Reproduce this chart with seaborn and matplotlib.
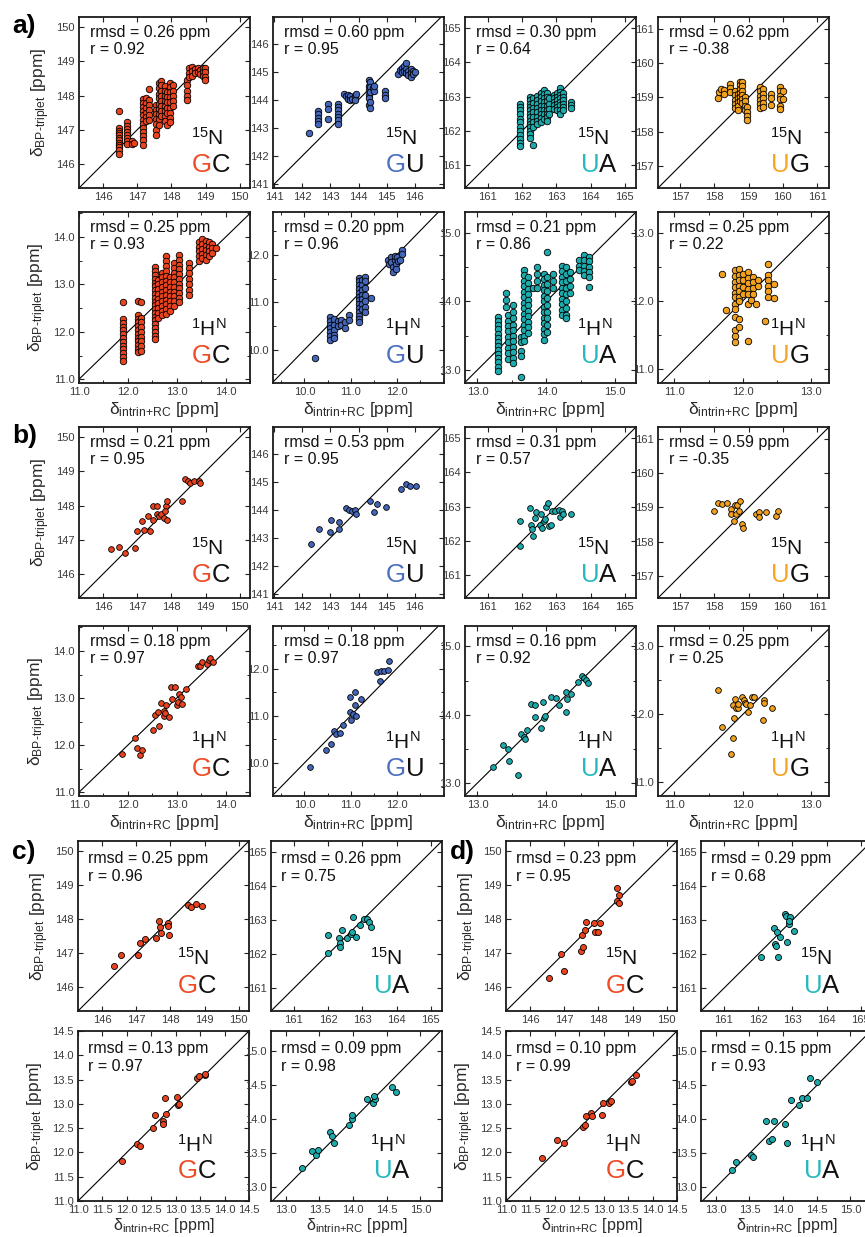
import matplotlib
matplotlib.use("Agg")
import matplotlib.pyplot as plt
from matplotlib.ticker import FormatStrFormatter, MultipleLocator
import pandas as pd
import seaborn as sns

# ---------------------------------------------------------------------------
# Chemical shifts: (delta_intrin+RC, delta_BP-triplet) in ppm.
# Ensemble sets are written column-wise: (x, [y values sharing that x]).
# ---------------------------------------------------------------------------

# a) ensemble, 15N
A_GC_N = [
    (146.47, [147.54, 147.06, 146.98, 146.91, 146.84, 146.77, 146.70, 146.63, 146.56, 146.49, 146.42, 146.30]),
    (146.69, [147.22, 147.12, 147.03, 146.94, 146.85, 146.76, 146.67, 146.59]),
    (146.84, [146.68, 146.60]),
    (146.92, [146.62]),
    (147.16, [147.90, 147.78, 147.66, 147.54, 147.42, 147.30, 147.18, 147.06, 146.94, 146.82, 146.70, 146.56]),
    (147.26, [147.92, 147.78, 147.64, 147.50, 147.38, 147.25]),
    (147.36, [148.20, 147.86, 147.72, 147.58, 147.44, 147.30]),
    (147.55, [147.72, 147.58, 147.45, 147.31, 147.16, 147.01, 146.86]),
    (147.63, [148.36, 148.22, 148.06, 147.92, 147.76, 147.61, 147.46, 147.31, 147.15]),
    (147.71, [148.43, 148.30, 148.15, 148.00, 147.85, 147.70, 147.55, 147.40]),
    (147.80, [148.28, 148.13, 147.98, 147.84, 147.70, 147.55, 147.40, 147.25]),
    (147.88, [148.10, 147.95, 147.80, 147.65, 147.50, 147.13]),
    (147.97, [148.38, 148.25, 148.10, 147.95, 147.80, 147.65, 147.50, 147.36, 147.22]),
    (148.05, [148.30, 148.15, 148.00, 147.85, 147.70]),
    (148.45, [148.45, 148.30, 148.15, 148.00, 147.86]),
    (148.53, [148.80, 148.66, 148.55]),
    (148.61, [148.85, 148.72, 148.58]),
    (148.69, [148.78, 148.65]),
    (148.77, [148.82, 148.70]),
    (148.85, [148.76, 148.63]),
    (148.92, [148.82, 148.70, 148.58]),
    (148.99, [148.80, 148.68, 148.55, 148.45]),
]
A_GU_N = [
    (142.24, [142.82]),
    (142.54, [143.60, 143.48, 143.36, 143.24, 143.14]),
    (142.90, [143.84, 143.66, 143.30]),
    (143.26, [143.86, 143.74, 143.62, 143.50, 143.38, 143.26, 143.14]),
    (143.48, [144.20]),
    (143.56, [144.12]),
    (143.62, [144.18, 144.04]),
    (143.70, [144.12, 143.98]),
    (143.78, [144.04]),
    (143.86, [144.12, 143.98]),
    (143.90, [144.20]),
    (144.36, [144.70, 144.50, 144.36, 144.18, 144.05, 143.80]),
    (144.42, [144.62, 144.45, 144.28, 143.92, 143.70]),
    (144.50, [144.40]),
    (144.56, [144.32, 144.50]),
    (144.94, [144.30, 144.18, 144.06]),
    (145.42, [144.92]),
    (145.48, [145.05]),
    (145.56, [145.12, 144.98]),
    (145.64, [145.20, 145.04]),
    (145.70, [145.30, 145.10, 144.96]),
    (145.78, [145.02, 144.88]),
    (145.86, [145.08, 144.94, 144.82]),
    (145.94, [145.02, 144.90]),
    (146.02, [145.00]),
]
A_UA_N = [
    (161.95, [162.80, 162.70, 162.60, 162.50, 162.35, 162.25, 162.12, 162.00, 161.88, 161.75, 161.64, 161.55]),
    (162.24, [163.00, 162.90, 162.80, 162.70, 162.60, 162.50, 162.40, 162.30, 162.20, 162.10, 162.00, 161.90, 161.80]),
    (162.32, [162.95, 162.82, 162.68, 162.54, 162.40, 162.26, 162.12, 161.60]),
    (162.44, [163.02, 162.90, 162.78, 162.66, 162.54, 162.42, 162.30, 162.20]),
    (162.54, [163.10, 162.98, 162.86, 162.74, 162.62, 162.50, 162.38, 162.25]),
    (162.63, [163.20, 163.08, 162.96, 162.84, 162.72, 162.60, 162.48, 162.36]),
    (162.72, [163.10, 162.98, 162.86, 162.74, 162.62, 162.50, 162.40, 162.30]),
    (162.80, [162.95, 162.80, 162.65, 162.50]),
    (162.92, [163.05, 162.95, 162.85, 162.75, 162.65]),
    (163.02, [163.10, 163.00, 162.90, 162.80, 162.70, 162.60]),
    (163.12, [163.25, 163.15, 163.05, 162.95, 162.85, 162.75, 162.62, 162.50]),
    (163.20, [163.10, 163.00, 162.90, 162.80, 162.70, 162.60]),
    (163.42, [162.85, 162.75, 162.67]),
]
A_UG_N = [
    (158.10, [158.97]),
    (158.14, [159.16]),
    (158.20, [159.25]),
    (158.28, [159.22, 159.10]),
    (158.46, [159.38, 159.26, 159.15]),
    (158.60, [159.20, 159.06, 158.92, 158.80, 158.70]),
    (158.68, [159.10, 158.98, 158.86, 158.74, 158.62]),
    (158.75, [159.45, 159.35, 159.24, 159.12, 159.00, 158.88]),
    (158.82, [159.45, 159.32, 159.20, 159.08, 158.95, 158.84]),
    (158.88, [159.02, 158.90, 158.76, 158.62]),
    (158.95, [158.72, 158.58, 158.45, 158.33]),
    (159.32, [159.30, 159.18, 159.05, 158.92, 158.80, 158.68]),
    (159.42, [159.24, 159.10, 158.98, 158.85, 158.72]),
    (159.65, [159.10, 158.98, 158.78]),
    (159.93, [159.30, 159.18, 159.05, 158.94, 158.75, 158.67]),
    (160.00, [159.20, 158.96]),
]

# a) ensemble, 1H imino
A_GC_H = [
    (11.91, [12.62, 12.27, 12.19, 12.11, 12.03, 11.95, 11.87, 11.79, 11.71, 11.63, 11.55, 11.47, 11.38]),
    (12.20, [12.65, 12.36, 12.28, 12.20, 12.12, 12.04, 11.96, 11.88, 11.80, 11.72, 11.64, 11.57]),
    (12.27, [12.63, 12.30, 12.20, 12.10, 12.00, 11.90, 11.80, 11.70, 11.60]),
    (12.55, [13.37, 13.28, 13.20, 13.12, 13.04, 12.96, 12.88, 12.80, 12.72, 12.64, 12.56, 12.48,
             12.40, 12.32, 12.24, 12.16, 12.08, 12.00, 11.92, 11.84]),
    (12.62, [13.10, 13.00, 12.90, 12.80, 12.70, 12.60, 12.50, 12.40, 12.30]),
    (12.70, [13.25, 13.15, 13.05, 12.95, 12.85, 12.75, 12.65, 12.55, 12.45, 12.35]),
    (12.78, [13.60, 13.50, 13.38, 13.28, 13.18, 13.08, 12.98, 12.88, 12.78, 12.68, 12.58, 12.48, 12.38]),
    (12.86, [13.15, 13.05, 12.95, 12.85, 12.75, 12.65, 12.55, 12.45]),
    (12.95, [13.45, 13.35, 13.25, 13.15, 13.05, 12.95, 12.85, 12.75, 12.65, 12.55]),
    (13.05, [13.62, 13.52, 13.42, 13.32, 13.22, 13.12, 13.02, 12.92, 12.82, 12.72, 12.62]),
    (13.25, [13.45, 13.35, 13.25, 13.12, 13.00, 12.88, 12.78]),
    (13.45, [13.90, 13.80, 13.70, 13.60, 13.50]),
    (13.52, [13.95, 13.85, 13.75, 13.65, 13.55]),
    (13.59, [13.92, 13.82, 13.72, 13.62, 13.52]),
    (13.66, [13.90, 13.80, 13.70, 13.60]),
    (13.73, [13.86, 13.76, 13.66]),
    (13.80, [13.78]),
]
A_GU_H = [
    (10.23, [9.83]),
    (10.55, [10.69, 10.61, 10.53, 10.45, 10.37, 10.29, 10.21]),
    (10.63, [10.64, 10.52, 10.42, 10.32, 10.24]),
    (10.72, [10.60, 10.50]),
    (10.80, [10.62, 10.52]),
    (10.88, [10.58, 10.46]),
    (10.96, [10.74, 10.62]),
    (11.18, [11.52, 11.44, 11.36, 11.28, 11.20, 11.12, 11.04, 10.96, 10.88, 10.80, 10.72, 10.64, 10.58]),
    (11.25, [11.46, 11.36, 11.26, 11.16, 11.06, 10.96, 10.86]),
    (11.31, [11.54, 11.44, 11.30, 11.16, 11.02, 10.90, 10.80]),
    (11.45, [11.09]),
    (11.80, [11.90]),
    (11.83, [11.80]),
    (11.88, [11.95, 11.85]),
    (11.91, [11.74, 11.64]),
    (11.95, [11.90, 11.98]),
    (11.98, [11.80, 11.70]),
    (12.01, [11.95]),
    (12.03, [11.86]),
    (12.06, [11.90]),
    (12.11, [12.10, 12.02]),
]
A_UA_H = [
    (13.30, [13.77, 13.71, 13.65, 13.59, 13.53, 13.47, 13.41, 13.35, 13.29, 13.23, 13.17, 13.11, 13.05, 12.98]),
    (13.42, [14.12, 14.02, 13.92]),
    (13.45, [13.80, 13.72, 13.64, 13.56, 13.48, 13.40, 13.32, 13.24, 13.16]),
    (13.52, [13.95, 13.85, 13.75, 13.66, 13.58, 13.50, 13.42, 13.34, 13.26, 13.18, 13.10]),
    (13.63, [13.48, 13.40, 13.28, 13.20, 12.90]),
    (13.68, [14.45, 14.38, 14.30, 14.22, 14.14, 14.06, 13.98, 13.90, 13.82, 13.74, 13.66, 13.58, 13.50, 13.42]),
    (13.74, [14.35, 14.26, 14.18, 14.10, 14.02, 13.94, 13.86, 13.78, 13.70, 13.62, 13.54]),
    (13.80, [14.20]),
    (13.87, [14.50, 14.40, 14.30, 14.20]),
    (13.97, [14.40, 14.32, 14.24, 14.16, 14.08, 14.00, 13.92, 13.84, 13.76, 13.68, 13.60, 13.52, 13.44]),
    (14.01, [14.72, 14.35, 14.25, 14.15, 14.05, 13.95, 13.85, 13.75, 13.65, 13.55]),
    (14.09, [14.40, 14.30, 14.20]),
    (14.22, [14.52, 14.44, 14.36, 14.28, 14.20, 14.12, 14.04, 13.96, 13.88, 13.80]),
    (14.28, [14.50, 14.40, 14.30, 14.20, 14.10, 14.00, 13.90, 13.80, 13.76]),
    (14.34, [14.42, 14.32, 14.22, 14.12]),
    (14.47, [14.60, 14.52, 14.45]),
    (14.55, [14.67, 14.60, 14.52, 14.44, 14.38]),
    (14.62, [14.65, 14.58, 14.50, 14.42, 14.36, 14.21]),
]
A_UG_H = [
    (11.69, [12.39]),
    (11.75, [11.86]),
    (11.88, [12.45, 12.36, 12.28, 12.20, 12.12, 12.05, 11.96, 11.88, 11.76, 11.58, 11.48, 11.40]),
    (11.95, [12.46, 12.38, 12.30, 12.22, 12.14, 12.06, 12.00, 11.73, 11.62]),
    (12.00, [12.40, 12.30, 12.20, 12.10]),
    (12.08, [12.42, 12.34, 12.26, 12.18, 12.10, 11.96, 11.41]),
    (12.12, [12.02]),
    (12.15, [12.35, 12.27, 12.19, 12.10]),
    (12.20, [11.95]),
    (12.22, [12.30, 12.22]),
    (12.33, [11.71]),
    (12.37, [12.54, 12.38, 12.30, 12.22, 12.14, 12.06]),
    (12.46, [12.25, 12.04]),
]

# b) single structures, 15N
B_GC_N = [(146.25, 146.74), (146.46, 146.80), (146.64, 146.61), (146.95, 146.77), (147.00, 147.26),
          (147.15, 147.56), (147.20, 147.29), (147.32, 147.69), (147.37, 147.27), (147.47, 147.59),
          (147.45, 147.98), (147.59, 147.98), (147.57, 147.76), (147.64, 147.69), (147.69, 147.75),
          (147.79, 147.64), (147.83, 147.98), (147.81, 147.85), (147.88, 147.57), (147.88, 148.13),
          (148.30, 148.15), (148.41, 148.78), (148.50, 148.73), (148.55, 148.66), (148.67, 148.73),
          (148.82, 148.73), (148.84, 148.66)]
B_GU_N = [(142.30, 142.77), (142.60, 143.30), (142.97, 143.19), (143.03, 143.64), (143.29, 143.55),
          (143.31, 143.32), (143.55, 144.07), (143.67, 143.98), (143.77, 143.94), (143.89, 144.00),
          (143.91, 143.86), (144.42, 144.30), (144.54, 143.92), (144.66, 144.20), (144.98, 144.11),
          (145.52, 144.74), (145.68, 144.90), (145.82, 144.85), (146.04, 144.85)]
B_UA_N = [(161.95, 161.85), (161.95, 162.57), (162.24, 162.96), (162.26, 162.47), (162.29, 162.34),
          (162.32, 162.15), (162.37, 162.67), (162.41, 162.83), (162.51, 162.47), (162.56, 162.80),
          (162.58, 162.39), (162.63, 162.57), (162.68, 162.64), (162.70, 162.98), (162.75, 163.10),
          (162.79, 162.44), (162.84, 162.47), (162.87, 162.86), (162.97, 162.86), (163.09, 162.90),
          (163.12, 162.71), (163.17, 162.88), (163.21, 162.80), (163.43, 162.78)]
B_UG_N = [(158.00, 158.90), (158.10, 159.13), (158.21, 159.11), (158.38, 159.13), (158.49, 158.96),
          (158.49, 158.80), (158.57, 158.60), (158.62, 158.80), (158.59, 159.06), (158.67, 159.08),
          (158.72, 158.90), (158.75, 159.18), (158.82, 158.50), (158.84, 158.41), (159.21, 158.80),
          (159.29, 158.86), (159.31, 158.73), (159.51, 158.86), (159.80, 158.75), (159.85, 158.88)]

# b) single structures, 1H imino
B_GC_H = [(11.89, 11.81), (12.15, 12.15), (12.19, 11.93), (12.24, 11.79), (12.28, 11.89),
          (12.51, 12.32), (12.63, 12.41), (12.56, 12.63), (12.62, 12.70), (12.67, 12.89),
          (12.74, 12.61), (12.73, 12.72), (12.77, 12.68), (12.79, 12.86), (12.84, 12.60),
          (12.88, 13.24), (12.96, 13.24), (12.90, 12.98), (13.01, 12.86), (13.03, 12.91),
          (13.05, 13.09), (13.08, 13.02), (13.10, 12.88), (13.20, 13.19), (13.44, 13.67),
          (13.48, 13.67), (13.51, 13.77), (13.61, 13.73), (13.67, 13.81), (13.69, 13.86),
          (13.75, 13.77)]
B_GU_H = [(10.13, 9.91), (10.47, 10.28), (10.57, 10.41), (10.65, 10.67), (10.68, 10.62),
          (10.78, 10.64), (10.84, 10.81), (10.98, 11.39), (10.99, 11.08), (11.00, 10.92),
          (11.06, 11.03), (11.10, 11.51), (11.10, 11.22), (11.11, 10.99), (11.23, 11.36),
          (11.56, 11.92), (11.64, 11.74), (11.66, 11.94), (11.72, 11.94), (11.80, 11.97),
          (11.84, 12.16)]
B_UA_H = [(13.23, 13.23), (13.37, 13.55), (13.44, 13.50), (13.46, 13.32), (13.59, 13.12),
          (13.63, 13.72), (13.67, 13.68), (13.69, 13.65), (13.72, 13.77), (13.77, 14.16),
          (13.83, 14.14), (13.83, 13.97), (13.92, 13.81), (13.95, 14.19), (13.97, 13.95),
          (13.98, 13.98), (14.06, 14.26), (14.14, 14.24), (14.18, 14.14), (14.28, 14.04),
          (14.29, 14.34), (14.30, 14.23), (14.36, 14.31), (14.46, 14.48), (14.51, 14.57),
          (14.54, 14.54), (14.58, 14.51), (14.61, 14.46)]
B_UG_H = [(11.64, 12.36), (11.70, 11.81), (11.85, 11.66), (11.83, 11.42), (11.86, 12.14),
          (11.87, 11.95), (11.89, 12.22), (11.90, 12.09), (11.93, 12.10), (11.93, 12.16),
          (11.99, 12.25), (12.01, 12.21), (12.03, 12.17), (12.05, 12.15), (12.08, 12.04),
          (12.10, 12.14), (12.13, 12.25), (12.17, 12.25), (12.29, 11.92), (12.31, 12.21),
          (12.31, 12.17), (12.42, 12.10)]

# c)
C_GC_N = [(146.34, 146.61), (146.57, 146.95), (147.04, 146.95), (147.12, 147.29), (147.25, 147.42),
          (147.58, 147.46), (147.68, 147.95), (147.69, 147.76), (147.73, 147.58), (147.92, 147.90),
          (147.92, 147.80), (147.97, 147.55), (148.52, 148.42), (148.59, 148.37), (148.75, 148.44),
          (148.94, 148.40)]
C_UA_N = [(162.00, 162.56), (162.00, 162.03), (162.32, 162.47), (162.34, 162.32), (162.36, 162.20),
          (162.41, 162.71), (162.56, 162.47), (162.68, 162.59), (162.70, 162.64), (162.73, 163.10),
          (162.81, 162.52), (162.93, 162.86), (163.04, 163.05), (163.14, 163.03), (163.20, 162.96),
          (163.25, 162.79)]
C_GC_H = [(11.90, 11.82), (12.20, 12.18), (12.27, 12.14), (12.53, 12.50), (12.58, 12.77),
          (12.74, 12.64), (12.75, 12.59), (12.78, 13.12), (12.80, 12.79), (13.02, 13.14),
          (13.04, 12.97), (13.06, 12.99), (13.43, 13.54), (13.48, 13.57), (13.60, 13.59),
          (13.59, 13.61)]
C_UA_H = [(13.24, 13.28), (13.39, 13.54), (13.45, 13.48), (13.48, 13.55), (13.65, 13.81),
          (13.69, 13.75), (13.72, 13.66), (13.94, 13.92), (13.98, 14.01), (13.99, 14.07),
          (14.20, 14.30), (14.29, 14.24), (14.32, 14.30), (14.31, 14.35), (14.57, 14.47),
          (14.63, 14.41)]

# d)
D_GC_N = [(146.56, 146.28), (146.92, 146.99), (147.00, 146.49), (147.48, 147.06), (147.54, 147.19),
          (147.53, 147.53), (147.62, 147.68), (147.65, 147.93), (147.88, 147.88), (147.90, 147.63),
          (147.99, 147.63), (148.06, 147.88), (148.56, 148.91), (148.60, 148.70), (148.56, 148.54),
          (148.60, 148.49)]
D_UA_N = [(162.08, 161.93), (162.47, 162.76), (162.49, 162.30), (162.52, 162.25), (162.56, 162.64),
          (162.58, 161.93), (162.64, 162.52), (162.79, 163.18), (162.81, 163.13), (162.83, 162.37),
          (162.91, 162.89), (162.93, 163.08), (162.91, 162.98), (163.05, 162.67)]
D_GC_H = [(11.73, 11.89), (12.05, 12.26), (12.18, 12.20), (12.57, 12.53), (12.62, 12.57),
          (12.64, 12.76), (12.74, 12.81), (12.75, 12.75), (12.96, 12.78), (12.99, 13.02),
          (13.10, 13.01), (13.15, 13.05), (13.55, 13.45), (13.58, 13.48), (13.66, 13.60)]
D_UA_H = [(13.24, 13.25), (13.30, 13.38), (13.52, 13.48), (13.55, 13.45), (13.75, 13.98),
          (13.79, 13.68), (13.84, 13.71), (13.87, 13.98), (14.03, 13.93), (14.06, 13.65),
          (14.11, 14.28), (14.23, 14.21), (14.28, 14.31), (14.35, 14.31), (14.40, 14.61),
          (14.50, 14.55)]

# Statistics printed in each panel (rmsd in ppm, Pearson r)
A_RMSD = [0.26, 0.60, 0.30, 0.62, 0.25, 0.20, 0.21, 0.25]
A_R = [0.92, 0.95, 0.64, -0.38, 0.93, 0.96, 0.86, 0.22]
B_RMSD = [0.21, 0.53, 0.31, 0.59, 0.18, 0.18, 0.16, 0.25]
B_R = [0.95, 0.95, 0.57, -0.35, 0.97, 0.97, 0.92, 0.25]
C_RMSD = [0.25, 0.26, 0.13, 0.09]
C_R = [0.96, 0.75, 0.97, 0.98]
D_RMSD = [0.23, 0.29, 0.10, 0.15]
D_R = [0.95, 0.68, 0.99, 0.93]

PAIRS4 = ["GC", "GU", "UA", "UG"]
PAIRS2 = ["GC", "UA"]

# ---------------------------------------------------------------------------
# Styling
# ---------------------------------------------------------------------------
sns.set_style("ticks")
plt.rcParams["font.family"] = ["Liberation Sans", "DejaVu Sans"]
plt.rcParams["mathtext.fontset"] = "custom"
plt.rcParams["mathtext.rm"] = "Liberation Sans"
plt.rcParams["mathtext.it"] = "Liberation Sans:italic"
plt.rcParams["mathtext.bf"] = "Liberation Sans:bold"

TEXT_COLORS = {"GC": "#EF4A26", "GU": "#4C6FC2", "UA": "#27B9BE", "UG": "#F8A526"}
MARK_COLORS = {"GC": "#E8431E", "GU": "#4466B8", "UA": "#1DAAAC", "UG": "#F2A11E"}

# axis ranges: (xlim, ylim, major ticks, minor step, label format)
AXES_N = {
    "GC": ((145.3, 150.3), (145.3, 150.3), [146, 147, 148, 149, 150], None, "%d"),
    "GU": ((140.95, 147.05), (140.85, 146.95), [141, 142, 143, 144, 145, 146], None, "%d"),
    "UA": ((160.33, 165.33), (160.33, 165.33), [161, 162, 163, 164, 165], None, "%d"),
    "UG": ((156.35, 161.35), (156.35, 161.35), [157, 158, 159, 160, 161], None, "%d"),
}
AXES_H = {
    "GC": ((11.0, 14.5), (10.92, 14.53), [11, 12, 13, 14], 0.5, "%.1f"),
    "GU": ((9.32, 13.02), (9.3, 12.9), [10, 11, 12], 0.5, "%.1f"),
    "UA": ((12.82, 15.3), (12.81, 15.3), [13, 14, 15], 0.5, "%.1f"),
    "UG": ((10.76, 13.26), (10.8, 13.3), [11, 12, 13], 0.5, "%.1f"),
}
AXES_H_CD = {
    "GC": ((11.0, 14.5), (11.0, 14.5), [11.0, 11.5, 12.0, 12.5, 13.0, 13.5, 14.0, 14.5], None, "%.1f"),
    "UA": ((12.78, 15.32), (12.8, 15.3), [13.0, 13.5, 14.0, 14.5, 15.0], None, "%.1f"),
}

# text placement (axes fraction) for the two panel layouts
LAYOUT_AB = {"rmsd": (0.065, 0.955),
             "N": ((0.845, 0.255), (0.885, 0.092)),
             "H": ((0.865, 0.277), (0.885, 0.118)),
             "xpad": 2, "xsize": 12.5}
LAYOUT_CD = {"rmsd": (0.06, 0.94),
             "N": ((0.77, 0.27), (0.81, 0.107)),
             "H": ((0.785, 0.29), (0.81, 0.137)),
             "xpad": 0.5, "xsize": 11.5}

YLABEL = "δ$_{\\mathregular{BP\\text{-}triplet}}$ [ppm]"
XLABEL = "δ$_{\\mathregular{intrin\\text{+}RC}}$ [ppm]"

W, H = 865, 1237
fig = plt.figure(figsize=(W / 100, H / 100), dpi=100)


def to_frame(points):
    xs, ys = [], []
    for x, y in points:
        if isinstance(y, list):
            xs.extend([x] * len(y))
            ys.extend(y)
        else:
            xs.append(x)
            ys.append(y)
    return pd.DataFrame({"x": xs, "y": ys})


def panel(left, top, size, points, pair, nuc, rmsd, r, axes_cfg, layout,
          ylabel=False, xlabel=False, msize=20):
    ax = fig.add_axes([left / W, 1 - (top + size) / H, 171 / W, size / H])
    df = to_frame(points)
    xlim, ylim, major, minor, fmt = axes_cfg[pair]
    lo, hi = min(xlim[0], ylim[0]), max(xlim[1], ylim[1])
    ax.axline((lo, lo), (hi, hi), color="black", lw=0.8, zorder=1)
    sns.scatterplot(data=df, x="x", y="y", ax=ax, color=MARK_COLORS[pair],
                    edgecolor="black", linewidth=0.6, s=msize, zorder=3, legend=False)
    ax.set_xlim(*xlim)
    ax.set_ylim(*ylim)
    ax.set_xticks(major)
    ax.set_yticks(major)
    ax.xaxis.set_major_formatter(FormatStrFormatter(fmt))
    ax.yaxis.set_major_formatter(FormatStrFormatter(fmt))
    if minor:
        ax.xaxis.set_minor_locator(MultipleLocator(minor))
        ax.yaxis.set_minor_locator(MultipleLocator(minor))
    ax.tick_params(which="both", direction="in", top=True, right=True,
                   labelsize=8, labelcolor="#3a3a3a", pad=3, color="#222222")
    ax.tick_params(which="major", length=3.5, width=0.8)
    ax.tick_params(which="minor", length=2.5, width=0.7)
    for sp in ax.spines.values():
        sp.set_linewidth(1.3)
        sp.set_color("#1a1a1a")

    ax.set_xlabel(XLABEL if xlabel else "", fontsize=layout["xsize"], color="#2a2a2a",
                  labelpad=layout["xpad"])
    ax.set_ylabel(YLABEL if ylabel else "", fontsize=12.5, color="#2a2a2a", labelpad=3)

    tx, ty = layout["rmsd"]
    ax.text(tx, ty, f"rmsd = {rmsd:.2f} ppm\nr = {r:.2f}", transform=ax.transAxes,
            ha="left", va="top", fontsize=11.5, color="#111111", linespacing=1.2)

    (nx, ny), (px, py) = layout[nuc]
    nuc_text = "$^{\\mathregular{15}}$N" if nuc == "N" else "$^{\\mathregular{1}}$H$^{\\mathregular{N}}$"
    ax.text(nx, ny, nuc_text, transform=ax.transAxes, ha="right", va="baseline",
            fontsize=15, color="#111111")
    second = ax.text(px, py, pair[1], transform=ax.transAxes, ha="right", va="baseline",
                     fontsize=18.5, color="#111111")
    ax.annotate(pair[0], xy=(0, 0), xycoords=second, ha="right", va="bottom",
                fontsize=18.5, color=TEXT_COLORS[pair])
    return ax


COLS_AB = [79, 273, 465, 658]

# section a
for i, (pts, pair) in enumerate(zip([A_GC_N, A_GU_N, A_UA_N, A_UG_N], PAIRS4)):
    panel(COLS_AB[i], 17, 171, pts, pair, "N", A_RMSD[i], A_R[i], AXES_N, LAYOUT_AB,
          ylabel=(i == 0), msize=22)
for i, (pts, pair) in enumerate(zip([A_GC_H, A_GU_H, A_UA_H, A_UG_H], PAIRS4)):
    panel(COLS_AB[i], 212, 171, pts, pair, "H", A_RMSD[4 + i], A_R[4 + i], AXES_H, LAYOUT_AB,
          ylabel=(i == 0), xlabel=True, msize=22)

# section b
for i, (pts, pair) in enumerate(zip([B_GC_N, B_GU_N, B_UA_N, B_UG_N], PAIRS4)):
    panel(COLS_AB[i], 427, 171, pts, pair, "N", B_RMSD[i], B_R[i], AXES_N, LAYOUT_AB,
          ylabel=(i == 0), msize=17)
for i, (pts, pair) in enumerate(zip([B_GC_H, B_GU_H, B_UA_H, B_UG_H], PAIRS4)):
    panel(COLS_AB[i], 626, 170, pts, pair, "H", B_RMSD[4 + i], B_R[4 + i], AXES_H, LAYOUT_AB,
          ylabel=(i == 0), xlabel=True, msize=17)

# sections c and d
for cols, sets, rm, rr in [([78, 271], [C_GC_N, C_UA_N, C_GC_H, C_UA_H], C_RMSD, C_R),
                           ([506, 701], [D_GC_N, D_UA_N, D_GC_H, D_UA_H], D_RMSD, D_R)]:
    for i, pair in enumerate(PAIRS2):
        panel(cols[i], 841, 170, sets[i], pair, "N", rm[i], rr[i], AXES_N, LAYOUT_CD,
              ylabel=(i == 0), msize=19)
        panel(cols[i], 1031, 170, sets[2 + i], pair, "H", rm[2 + i], rr[2 + i], AXES_H_CD,
              LAYOUT_CD, ylabel=(i == 0), xlabel=True, msize=19)

# panel letters
for letter, xp, yp in [("a)", 12, 14), ("b)", 12, 424), ("c)", 12, 840), ("d)", 450, 840)]:
    fig.text(xp / W, 1 - yp / H, letter, ha="left", va="top", fontsize=19,
             fontweight="bold", color="black")

fig.savefig("out.png", dpi=100)
